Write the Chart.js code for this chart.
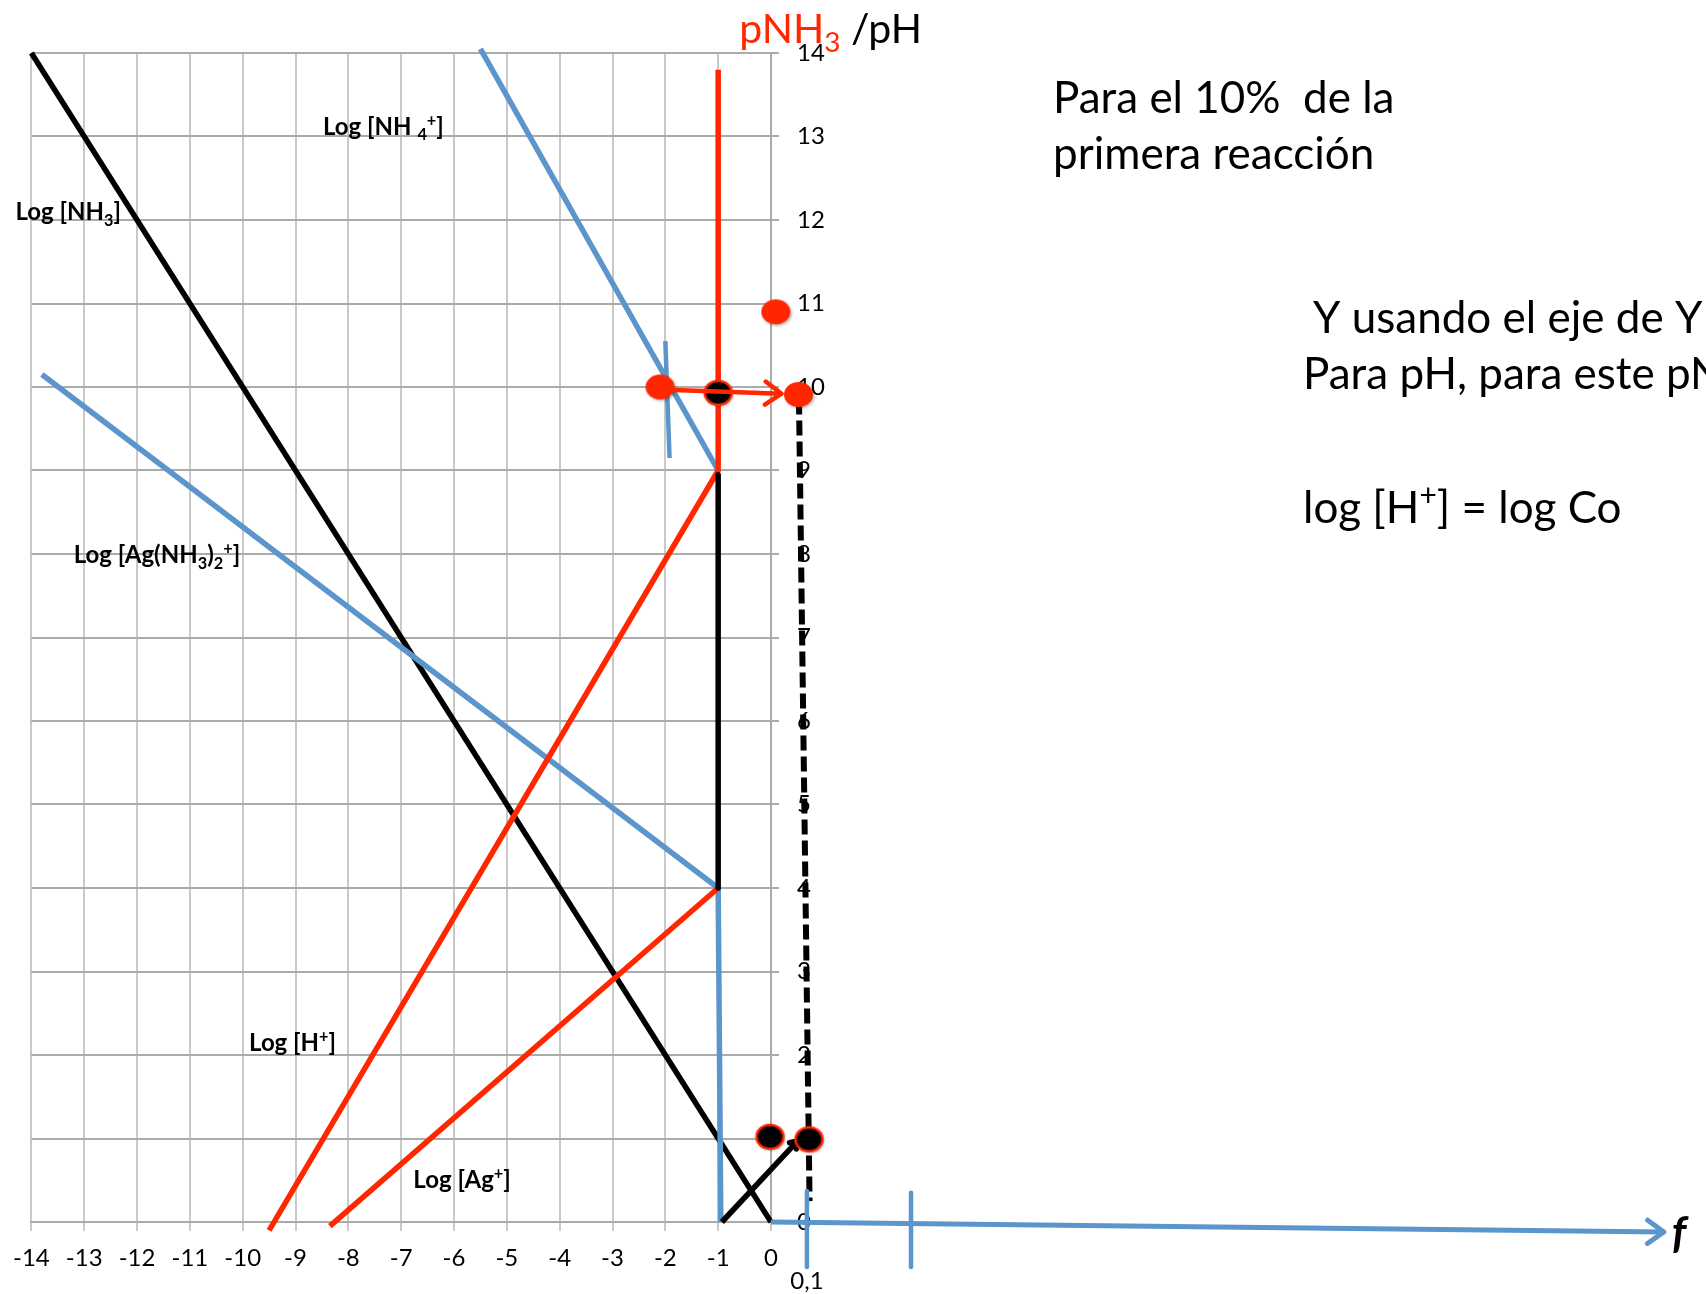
<!DOCTYPE html>
<html>
<head>
<meta charset="utf-8">
<script src="https://cdn.jsdelivr.net/npm/chart.js@4.4.1/dist/chart.umd.min.js"></script>
<style>
  html, body { margin: 0; padding: 0; background: #fff; overflow: hidden; }
  canvas { display: block; }
</style>
</head>
<body>
<canvas id="c" width="1706" height="1294"></canvas>
<script>
// Logarithmic diagram for the Ag+ / NH3 / H+ system (pNH3 / pH vs log C)

// axis ranges
const xRange = [-14, 0];
const yRange = [0, 14];

// concentration lines
const nh3X = [-14, 0],             nh3Y = [14, 0];
const nh4X = [-5.5, -1],           nh4Y = [14.05, 9];
const agAmmX = [-13.8, -1, -0.95], agAmmY = [10.15, 4, 0];
const hX = [-9.5, -1, -1],         hY = [-0.1, 9, 13.8];
const agX = [-8.35, -1],           agY = [-0.05, 4];
const jumpX = [-1, -1],            jumpY = [8.95, 4];

// construction for the 10 % point of the first reaction
const markX = [-2.0, -1.92],       markY = [10.55, 9.15];
const readX = [-2.1, 0.2],         readY = [9.97, 9.92];
const dropX = [0.53, 0.73],        dropY = [9.85, 0.25];
const riseX = [-0.93, 0.5],        riseY = [0, 0.97];

// fraction (f) axis
const fAxisX = [0, 16.9],          fAxisY = [0, -0.12];
const fTick1X = [0.68, 0.68],      fTick1Y = [0.37, -0.54];
const fTick2X = [2.65, 2.65],      fTick2Y = [0.35, -0.54];
const fTickLabel = '0,1';

// marked points
const redDotsX = [-2.1, 0.09, 0.52],   redDotsY = [10.0, 10.9, 9.91];
const darkDotsX = [-1.0, -0.02, 0.72], darkDotsY = [9.93, 1.02, 0.99];

// curve names (text pieces: [text, 'sub' | 'sup' | ''])
const curveNames = [
  [['Log [NH', ''], ['3', 'sub'], [']', '']],
  [['Log [NH ', ''], ['4', 'sub'], ['+', 'sup'], [']', '']],
  [['Log [Ag(NH', ''], ['3', 'sub'], [')', ''], ['2', 'sub'], ['+', 'sup'], [']', '']],
  [['Log [H', ''], ['+', 'sup'], [']', '']],
  [['Log [Ag', ''], ['+', 'sup'], [']', '']]
];
const curveNameX = [-14.3, -8.48, -13.2, -9.88, -6.77];
const curveNameY = [12.1, 13.12, 7.99, 2.15, 0.51];

const RED = '#ff2600', BLUE = '#5b95cb', BLACK = '#000000';
const FONT = 'Lato, "Open Sans", "DejaVu Sans", sans-serif';

function pts(xs, ys) { return xs.map((x, i) => ({ x, y: ys[i] })); }
function line(xs, ys, color, width, extra) {
  return Object.assign({
    data: pts(xs, ys), borderColor: color, backgroundColor: color,
    borderWidth: width, showLine: true, pointRadius: 0, pointHoverRadius: 0,
    clip: false, tension: 0, borderCapStyle: 'butt', borderJoinStyle: 'round'
  }, extra || {});
}
function ellipseSprite(fill, stroke, w, h) {
  const pad = 5;
  const c = document.createElement('canvas');
  c.width = w + pad * 2; c.height = h + pad * 2;
  const g = c.getContext('2d');
  g.shadowColor = 'rgba(0,0,0,0.3)'; g.shadowBlur = 3; g.shadowOffsetX = 1.5; g.shadowOffsetY = 1.5;
  g.beginPath();
  g.ellipse(c.width / 2, c.height / 2, w / 2, h / 2, 0, 0, Math.PI * 2);
  g.fillStyle = fill; g.fill();
  if (stroke) {
    g.shadowColor = 'transparent';
    g.lineWidth = 2.5; g.strokeStyle = stroke; g.stroke();
  }
  return c;
}
function dots(xs, ys, sprite) {
  return { data: pts(xs, ys), showLine: false, pointRadius: 0, pointHoverRadius: 0, clip: false, sprite };
}

// bottom-to-top drawing order
const layers = [
  line(nh3X, nh3Y, BLACK, 5.5),
  line(nh4X, nh4Y, BLUE, 5.5),
  line(agAmmX, agAmmY, BLUE, 5.5),
  line(hX, hY, RED, 5.5),
  line(agX, agY, RED, 5.5),
  line(jumpX, jumpY, BLACK, 5.5),
  line(markX, markY, BLUE, 4.5),
  line(dropX, dropY, BLACK, 6, { borderDash: [15, 6] }),
  line(fAxisX, fAxisY, BLUE, 5, { arrowSize: 20 }),
  line(fTick1X, fTick1Y, BLUE, 4.5),
  line(fTick2X, fTick2Y, BLUE, 4.5),
  line(riseX, riseY, BLACK, 5.5, { arrowSize: 8 }),
  dots(redDotsX, redDotsY, ellipseSprite(RED, null, 29, 25)),
  dots(darkDotsX, darkDotsY, ellipseSprite(BLACK, RED, 27, 24)),
  line(readX, readY, RED, 4.5, { arrowSize: 20 })
];
layers.forEach((d, i) => { d.order = layers.length - i; });

function drawRich(ctx, x, baseline, segs, size, style, color) {
  let cx = x;
  ctx.textBaseline = 'alphabetic';
  ctx.textAlign = 'left';
  for (const seg of segs) {
    const [t, k, col] = seg;
    const fs = k ? size * 0.68 : size;
    ctx.font = `${style} ${fs}px ${FONT}`;
    ctx.fillStyle = col || color;
    const dy = k === 'sub' ? size * 0.22 : (k === 'sup' ? -size * 0.38 : 0);
    ctx.fillText(t, cx, baseline + dy);
    cx += ctx.measureText(t).width;
  }
  return cx;
}

// marker sprites, drawn right after their own dataset so stacking follows dataset order
const spritePlugin = {
  id: 'markerSprites',
  afterDatasetDraw(chart, args) {
    const ds = chart.data.datasets[args.index];
    if (!ds.sprite) return;
    const ctx = chart.ctx, s = ds.sprite;
    args.meta.data.forEach(el => {
      ctx.drawImage(s, el.x - s.width / 2, el.y - s.height / 2);
    });
  }
};

const arrowPlugin = {
  id: 'arrowHeads',
  afterDatasetDraw(chart, args) {
    const ds = chart.data.datasets[args.index];
    if (!ds.arrowSize) return;
    const ctx = chart.ctx;
    const el = args.meta.data;
    const a = el[el.length - 2], b = el[el.length - 1];
    const ang = Math.atan2(b.y - a.y, b.x - a.x);
    const s = ds.arrowSize, spread = 0.62;
    ctx.save();
    ctx.strokeStyle = ds.borderColor;
    ctx.lineWidth = ds.borderWidth;
    ctx.lineCap = 'round'; ctx.lineJoin = 'round';
    ctx.beginPath();
    ctx.moveTo(b.x - s * Math.cos(ang - spread), b.y - s * Math.sin(ang - spread));
    ctx.lineTo(b.x, b.y);
    ctx.lineTo(b.x - s * Math.cos(ang + spread), b.y - s * Math.sin(ang + spread));
    ctx.stroke();
    ctx.restore();
  }
};

const textPlugin = {
  id: 'diagramText',
  afterDraw(chart) {
    const ctx = chart.ctx;
    const xs = chart.scales.x, ys = chart.scales.y;
    ctx.save();

    // curve names
    curveNames.forEach((segs, i) => {
      const size = 24;
      drawRich(ctx, xs.getPixelForValue(curveNameX[i]), ys.getPixelForValue(curveNameY[i]) + size * 0.36,
        segs, size, 'bold', BLACK);
    });

    // axis title above the ordinate
    drawRich(ctx, xs.getPixelForValue(-0.6), ys.getPixelForValue(14.12),
      [['pNH', '', RED], ['3', 'sub', RED], [' /pH', '', BLACK]], 41, 'normal', BLACK);

    // f axis labels
    ctx.font = `24px ${FONT}`;
    ctx.fillStyle = BLACK;
    ctx.textAlign = 'center';
    ctx.fillText(fTickLabel, xs.getPixelForValue(fTick1X[0]), 1289);
    ctx.textAlign = 'left';
    ctx.font = `italic bold 44px ${FONT}`;
    ctx.fillText('f', xs.getPixelForValue(fAxisX[1]) + 8, 1248);

    // notes
    const n = 44;
    drawRich(ctx, 1053, 113, [['Para el 10%  de la', '']], n, 'normal', BLACK);
    drawRich(ctx, 1053, 169, [['primera reacción', '']], n, 'normal', BLACK);
    drawRich(ctx, 1313, 333, [['Y usando el eje de Y', '']], n, 'normal', BLACK);
    drawRich(ctx, 1303, 389, [['Para pH, para este pNH', ''], ['3', 'sub']], n, 'normal', BLACK);
    drawRich(ctx, 1303, 523, [['log [H', ''], ['+', 'sup'], ['] = log Co', '']], n, 'normal', BLACK);

    ctx.restore();
  }
};

new Chart(document.getElementById('c'), {
  type: 'scatter',
  data: { datasets: layers },
  options: {
    responsive: false,
    animation: false,
    devicePixelRatio: 1,
    events: [],
    layout: { padding: { top: 53, left: 27, right: 0, bottom: 0 } },
    plugins: { legend: { display: false }, tooltip: { enabled: false } },
    scales: {
      x: {
        type: 'linear', position: 'bottom', min: xRange[0], max: xRange[1],
        ticks: { stepSize: 1, color: BLACK, font: { family: FONT, size: 24 }, padding: 13, maxRotation: 0 },
        grid: { color: '#c9c9c9', lineWidth: 2, tickLength: 9 },
        border: { color: '#ababab', width: 2 },
        afterFit(scale) { scale.height = 72; }
      },
      y: {
        type: 'linear', position: 'right', min: yRange[0], max: yRange[1],
        ticks: { stepSize: 1, color: BLACK, font: { family: FONT, size: 24 }, padding: 18 },
        grid: { color: '#ababab', lineWidth: 2, tickLength: 8 },
        border: { color: '#ababab', width: 2 },
        afterFit(scale) { scale.width = 935; }
      }
    }
  },
  plugins: [spritePlugin, arrowPlugin, textPlugin]
});
</script>
</body>
</html>
